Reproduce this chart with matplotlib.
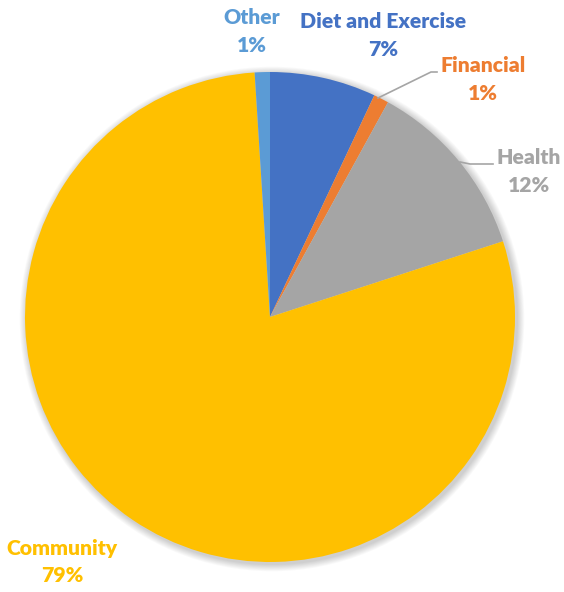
import matplotlib.pyplot as plt
from matplotlib.patches import Circle

labels = ['Diet and Exercise', 'Financial', 'Health', 'Community', 'Other']
shares = [7, 1, 12, 79, 1]
colors = ['#4472C4', '#ED7D31', '#A5A5A5', '#FFC000', '#5B9BD5']

W, H = 564, 592
fig = plt.figure(figsize=(W / 100, H / 100), dpi=100)
ax = fig.add_axes([0, 0, 1, 1])

cx, cy, r = 270, H - 317, 245

# soft drop shadow under the pie
for i in range(8):
    ax.add_patch(Circle((cx + 2, cy - 2), r + 1 + i * 0.9, color='#000000',
                        alpha=0.025, lw=0, zorder=0))

wedges, _ = ax.pie(shares, colors=colors, startangle=90, counterclock=False,
                   radius=r, center=(cx, cy), wedgeprops=dict(linewidth=0))
for w in wedges:
    w.set_zorder(2)

# pie() resets the limits, so fix pixel-like coordinates afterwards
ax.set_xlim(0, W)
ax.set_ylim(0, H)
ax.set_aspect('equal')
ax.axis('off')

font = dict(family='Lato', weight='heavy', fontsize=15.2, ha='center', va='center')

# label anchors (x, y of the name line)
pos = {
    'Other': (252, 17),
    'Diet and Exercise': (383, 22),
    'Financial': (483, 66),
    'Health': (529, 157),
    'Community': (62, 548),
}
for name, val, col in zip(labels, shares, colors):
    x, y = pos[name]
    ax.text(x, H - y, name, color=col, zorder=3, **font)
    ax.text(x, H - y - 28, f'{val}%', color=col, zorder=3, **font)

# leader lines
ax.plot([378, 431, 437], [H - 98, H - 72, H - 72], color='#A5A5A5', lw=1.2, zorder=3)
ax.plot([460, 470, 493], [H - 162, H - 164, H - 164], color='#A5A5A5', lw=1.2, zorder=3)

fig.savefig('out.png', dpi=100)
